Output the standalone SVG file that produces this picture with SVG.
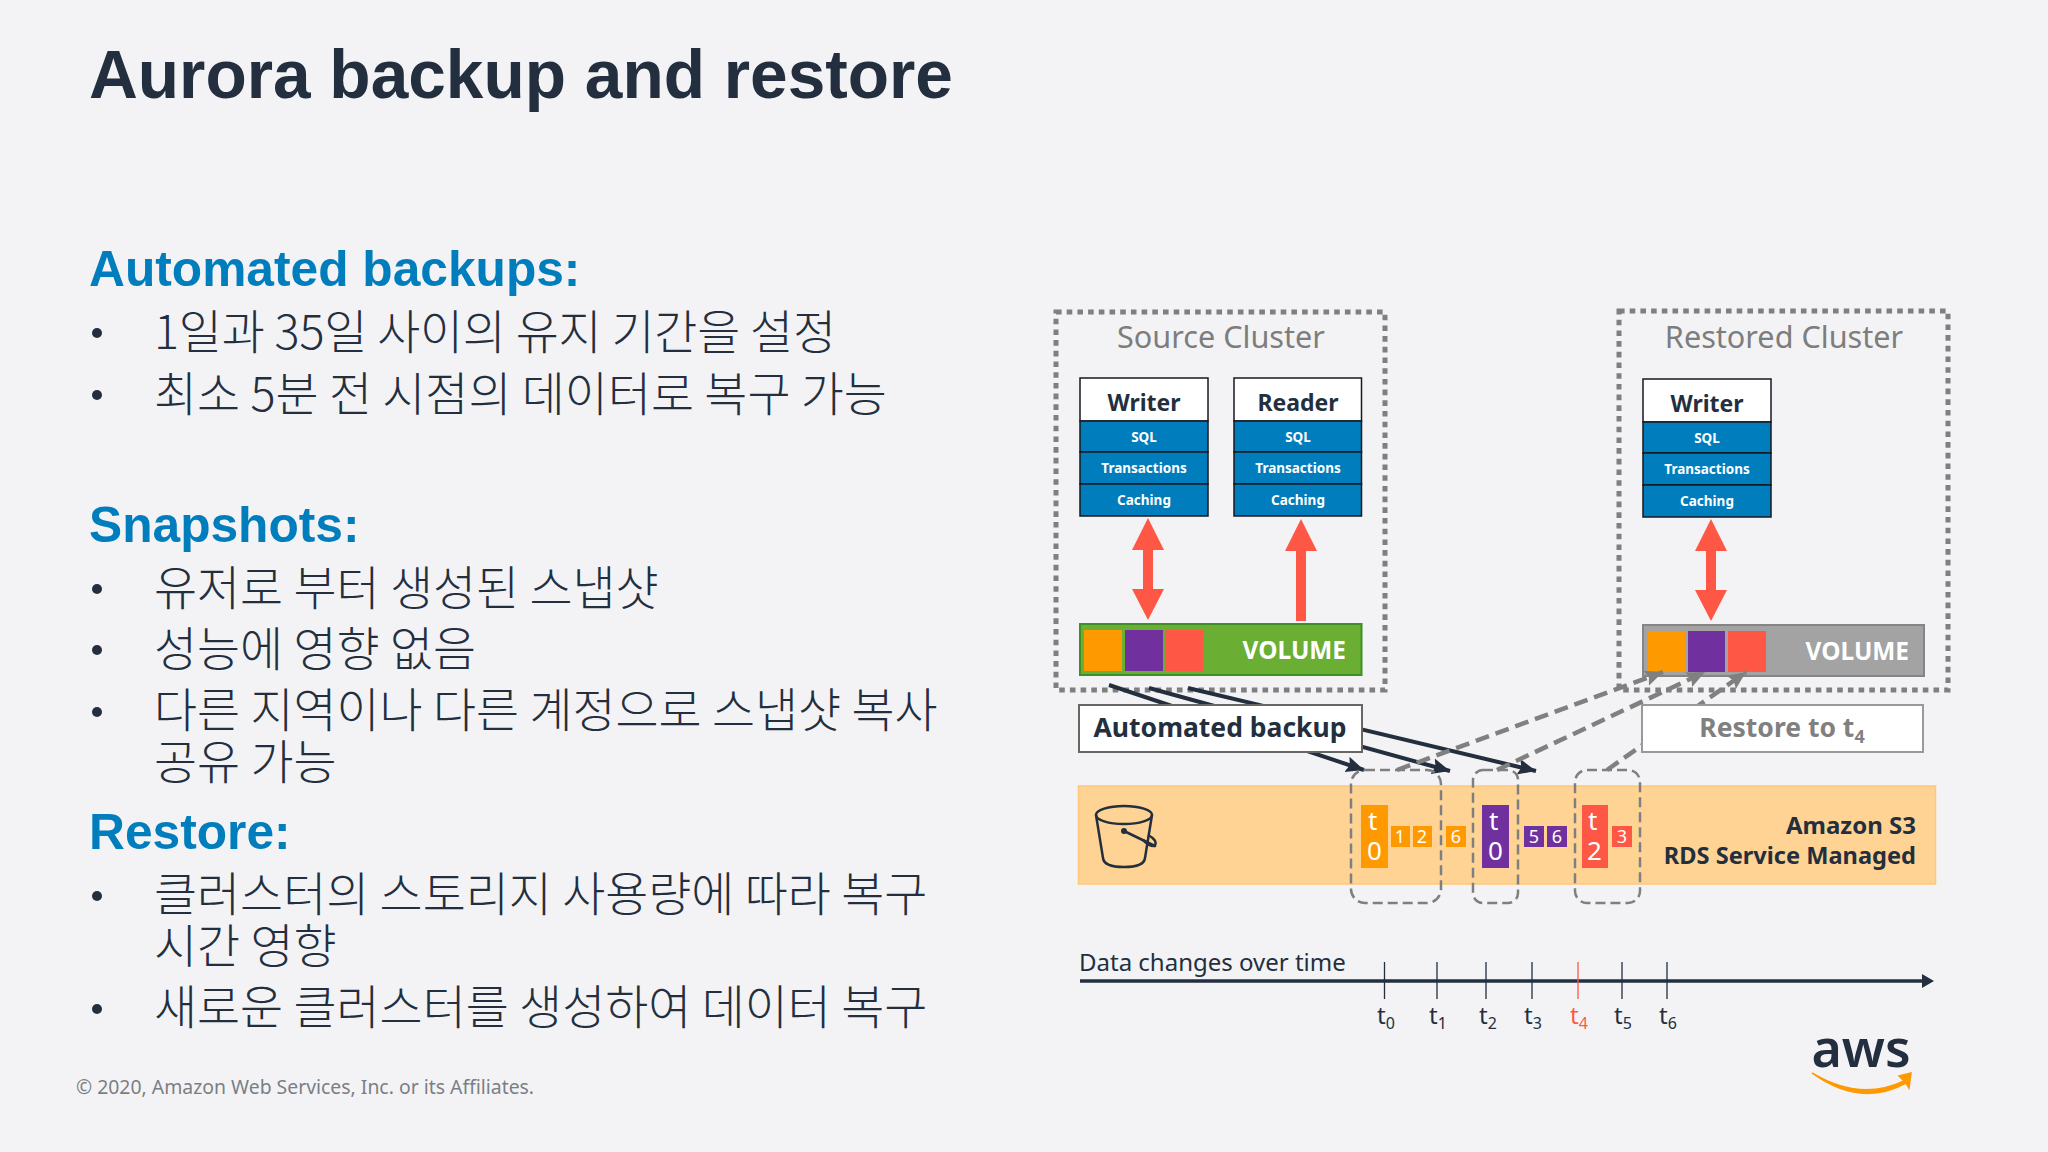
<svg xmlns="http://www.w3.org/2000/svg" width="2048" height="1152" viewBox="0 0 2048 1152">
<style>
.bg{fill:#f3f3f5}
.title{font:700 67.600px "Liberation Sans",sans-serif;fill:#232f3e}
.h{font:700 49.700px "Liberation Sans",sans-serif;fill:#007dbc}
.b{font:300 46.800px "Noto Sans CJK KR","Liberation Sans",sans-serif;fill:#232f3e}
.dot{fill:#232f3e}
.n{font-family:"Noto Sans","Liberation Sans",sans-serif}
.cl{font-size:30.600px;fill:#7d7d7d;text-anchor:middle}
.dotted{fill:none;stroke:#7f7f7f;stroke-width:5;stroke-dasharray:5.6 5.1}
.hd{fill:#fff;stroke:#16191f;stroke-width:1.500}
.blk{fill:#007dbc;stroke:#16191f;stroke-width:1.500}
.nm{font-size:23px;font-weight:700;fill:#232f3e;text-anchor:middle}
.sm{font-size:13.500px;font-weight:700;fill:#fff;text-anchor:middle}
.vol{font-size:24.400px;font-weight:700;fill:#fff;text-anchor:end}
.red{fill:#ff5745}
.dsolid{fill:none;stroke:#232f3e;stroke-width:4}
.dgray{fill:none;stroke:#808080;stroke-width:4.500;stroke-dasharray:14 7}
.round{fill:none;stroke:#7f7f7f;stroke-width:2.500;stroke-dasharray:10 5}
.lab{fill:#fff;stroke:#666;stroke-width:2}
.big{font-size:26.500px;font-weight:700;text-anchor:middle}
.tt{font-size:26px;fill:#fff}
.st{font-size:18px;fill:#fff;text-anchor:middle}
.tick{stroke:#232f3e;stroke-width:1.300}
.tl{font-size:24px;fill:#232f3e}
</style>
<defs>
<marker id="ad" markerUnits="userSpaceOnUse" markerWidth="20" markerHeight="18" refX="18" refY="9" orient="auto"><path d="M0 1L18 9L0 17L3 9Z" fill="#232f3e"/></marker>
<marker id="ag" markerUnits="userSpaceOnUse" markerWidth="20" markerHeight="18" refX="18" refY="9" orient="auto"><path d="M0 1L18 9L0 17L3 9Z" fill="#808080"/></marker>
</defs>
<rect class="bg" width="2048" height="1152"/>
<text class="title" x="89" y="98">Aurora backup and restore</text>
<text class="h" x="89" y="286">Automated backups:</text>
<g class="b">
<text x="154" y="349" textLength="682">1일과 35일 사이의 유지 기간을 설정</text>
<text x="154" y="411">최소 5분 전 시점의 데이터로 복구 가능</text>
<text x="154" y="605">유저로 부터 생성된 스냅샷</text>
<text x="154" y="666">성능에 영향 없음</text>
<text x="154" y="727">다른 지역이나 다른 계정으로 스냅샷 복사</text>
<text x="154" y="779">공유 가능</text>
<text x="154" y="911">클러스터의 스토리지 사용량에 따라 복구</text>
<text x="154" y="963">시간 영향</text>
<text x="154" y="1024">새로운 클러스터를 생성하여 데이터 복구</text>
</g>
<text class="h" x="89" y="542">Snapshots:</text>
<text class="h" x="89" y="849">Restore:</text>
<g class="dot">
<circle cx="97" cy="333" r="5"/><circle cx="97" cy="395" r="5"/><circle cx="97" cy="589" r="5"/><circle cx="97" cy="650" r="5"/><circle cx="97" cy="712" r="5"/><circle cx="97" cy="896" r="5"/><circle cx="97" cy="1009" r="5"/>
</g>
<text x="76" y="1094" style="font:19.400px 'Noto Sans','Liberation Sans',sans-serif;fill:#7a7f85">© 2020, Amazon Web Services, Inc. or its Affiliates.</text>

<g id="source-cluster" class="n">
<rect class="dotted" x="1056" y="312" width="329" height="378"/>
<text class="cl" x="1221" y="348">Source Cluster</text>
</g>
<g id="source-writer" class="n">
<rect class="hd" x="1080" y="378" width="128" height="43"/>
<rect class="blk" x="1080" y="421" width="128" height="31"/><rect class="blk" x="1080" y="452" width="128" height="32"/><rect class="blk" x="1080" y="484" width="128" height="32"/>
<text class="nm" x="1144" y="411">Writer</text><text class="sm" x="1144" y="442">SQL</text><text class="sm" x="1144" y="473">Transactions</text><text class="sm" x="1144" y="505">Caching</text>
</g>
<g id="source-reader" class="n">
<rect class="hd" x="1234" y="378" width="127.500" height="43"/>
<rect class="blk" x="1234" y="421" width="127.500" height="31"/><rect class="blk" x="1234" y="452" width="127.500" height="32"/><rect class="blk" x="1234" y="484" width="127.500" height="32"/>
<text class="nm" x="1298" y="411">Reader</text><text class="sm" x="1298" y="442">SQL</text><text class="sm" x="1298" y="473">Transactions</text><text class="sm" x="1298" y="505">Caching</text>
</g>
<path class="red" d="M1148 518L1164 550H1153V589H1164L1148 620L1132 589H1143V550H1132Z"/>
<path class="red" d="M1301 519L1317 551H1306V621H1296V551H1285Z"/>
<g id="source-volume" class="n">
<rect x="1080" y="624" width="281.500" height="51" fill="#6aae34" stroke="#3f8f24" stroke-width="2"/>
<rect x="1084" y="630" width="38" height="41" fill="#ff9900"/><rect x="1125" y="630" width="38" height="41" fill="#70309e"/><rect x="1165" y="630" width="38" height="41" fill="#ff5745"/>
<text class="vol" x="1346" y="659">VOLUME</text>
</g>

<g id="restored-cluster" class="n">
<rect class="dotted" x="1619" y="311" width="329" height="379"/>
<text class="cl" x="1784" y="348">Restored Cluster</text>
</g>
<g id="restored-writer" class="n">
<rect class="hd" x="1643" y="379" width="128" height="43"/>
<rect class="blk" x="1643" y="422" width="128" height="31"/><rect class="blk" x="1643" y="453" width="128" height="32"/><rect class="blk" x="1643" y="485" width="128" height="32"/>
<text class="nm" x="1707" y="412">Writer</text><text class="sm" x="1707" y="443">SQL</text><text class="sm" x="1707" y="474">Transactions</text><text class="sm" x="1707" y="506">Caching</text>
</g>
<path class="red" d="M1711 519L1727 551H1716V590H1727L1711 621L1695 590H1706V551H1695Z"/>
<g id="restored-volume" class="n">
<rect x="1643" y="625" width="281" height="51" fill="#a3a3a3" stroke="#858585" stroke-width="2"/>
<rect x="1648" y="631" width="38" height="41" fill="#ff9900"/><rect x="1688" y="631" width="37" height="41" fill="#70309e"/><rect x="1728" y="631" width="38" height="41" fill="#ff5745"/>
<text class="vol" x="1909" y="660">VOLUME</text>
</g>

<g id="connectors">
<path class="dsolid" d="M1109 685L1364 770" marker-end="url(#ad)"/>
<path class="dsolid" d="M1149 688L1450 771" marker-end="url(#ad)"/>
<path class="dsolid" d="M1188 688L1536 771" marker-end="url(#ad)"/>
<path class="dgray" d="M1397 770L1663 672" marker-end="url(#ag)"/>
<path class="dgray" d="M1497 770L1705 672" marker-end="url(#ag)"/>
<path class="dgray" d="M1607 770L1746 672" marker-end="url(#ag)"/>
</g>

<g id="automated-backup" class="n">
<rect class="lab" x="1079" y="705" width="283" height="47"/>
<text class="big" x="1220" y="737" fill="#232f3e">Automated backup</text>
</g>
<g id="restore-to" class="n">
<rect class="lab" x="1642" y="705" width="281" height="47" style="stroke:#999"/>
<text class="big" x="1782" y="737" fill="#808080">Restore to t<tspan font-size="18" dy="6">4</tspan></text>
</g>

<g id="s3" class="n">
<rect x="1078.500" y="786" width="857" height="98" fill="#ffd394" stroke="#ffc878" stroke-width="1.500"/>
<g fill="none" stroke="#232f3e" stroke-width="2.500">
<ellipse cx="1124" cy="815" rx="28" ry="9"/>
<path d="M1096 815L1103 858Q1104 867 1124 867Q1144 867 1145 858L1152 815"/>
<path d="M1124 831L1155 846"/><path d="M1148 835Q1158 840 1155 846Q1150 847 1143 840"/>
</g>
<circle cx="1124" cy="831" r="3" fill="#232f3e"/>
<text x="1916" y="834" text-anchor="end" font-size="24" font-weight="700" fill="#232f3e">Amazon S3</text>
<text x="1916" y="864" text-anchor="end" font-size="23.600" font-weight="700" fill="#232f3e">RDS Service Managed</text>
<rect x="1361" y="805" width="27" height="63" fill="#ff9900"/>
<rect x="1391" y="826" width="19" height="21" fill="#ff9900"/><rect x="1413" y="826" width="19" height="21" fill="#ff9900"/><rect x="1446" y="826" width="20" height="21" fill="#ff9900"/>
<rect x="1482" y="805" width="27" height="63" fill="#70309e"/>
<rect x="1524" y="826" width="20" height="21" fill="#70309e"/><rect x="1547" y="826" width="20" height="21" fill="#70309e"/>
<rect x="1582" y="805" width="26" height="63" fill="#ff5745"/><rect x="1612" y="826" width="20" height="21" fill="#ff5745"/>
<text class="tt" x="1368" y="830">t</text><text class="tt" x="1367" y="860">0</text>
<text class="tt" x="1489" y="830">t</text><text class="tt" x="1488" y="860">0</text>
<text class="tt" x="1588" y="830">t</text><text class="tt" x="1587" y="860">2</text>
<text class="st" x="1400" y="843">1</text><text class="st" x="1422" y="843">2</text><text class="st" x="1456" y="843">6</text>
<text class="st" x="1534" y="843">5</text><text class="st" x="1557" y="843">6</text><text class="st" x="1622" y="843">3</text>
<rect class="round" x="1351" y="770" width="90" height="133" rx="14"/>
<rect class="round" x="1473" y="770" width="45" height="133" rx="10"/>
<rect class="round" x="1575" y="770" width="65" height="133" rx="12"/>
</g>

<g id="timeline" class="n">
<path d="M1080 981H1924" stroke="#232f3e" stroke-width="3.500" fill="none"/>
<path d="M1922 974L1934 981L1922 988Z" fill="#232f3e"/>
<text class="tl" x="1079" y="971">Data changes over time</text>
<path class="tick" d="M1384.500 962V999M1437 962V999M1486 962V999M1532 962V999M1622 962V999M1667 962V999"/>
<path d="M1578 962V999" stroke="#ff5745" stroke-width="1.300"/>
<text class="tl" x="1377" y="1024">t<tspan font-size="16" dy="5">0</tspan></text>
<text class="tl" x="1429" y="1024">t<tspan font-size="16" dy="5">1</tspan></text>
<text class="tl" x="1479" y="1024">t<tspan font-size="16" dy="5">2</tspan></text>
<text class="tl" x="1524" y="1024">t<tspan font-size="16" dy="5">3</tspan></text>
<text class="tl" x="1570" y="1024" style="fill:#ff5745">t<tspan font-size="16" dy="5">4</tspan></text>
<text class="tl" x="1614" y="1024">t<tspan font-size="16" dy="5">5</tspan></text>
<text class="tl" x="1659" y="1024">t<tspan font-size="16" dy="5">6</tspan></text>
</g>

<g id="aws-logo">
<text x="1861" y="1067" text-anchor="middle" style="font:600 52px 'Noto Sans','Liberation Sans',sans-serif;fill:#232f3e">aws</text>
<path d="M1812 1073Q1860 1102 1904 1081L1899 1076L1911 1073L1909 1088L1906 1083Q1860 1108 1812 1073Z" fill="#f90" stroke="#f90" stroke-width="1.500"/>
</g>
</svg>
